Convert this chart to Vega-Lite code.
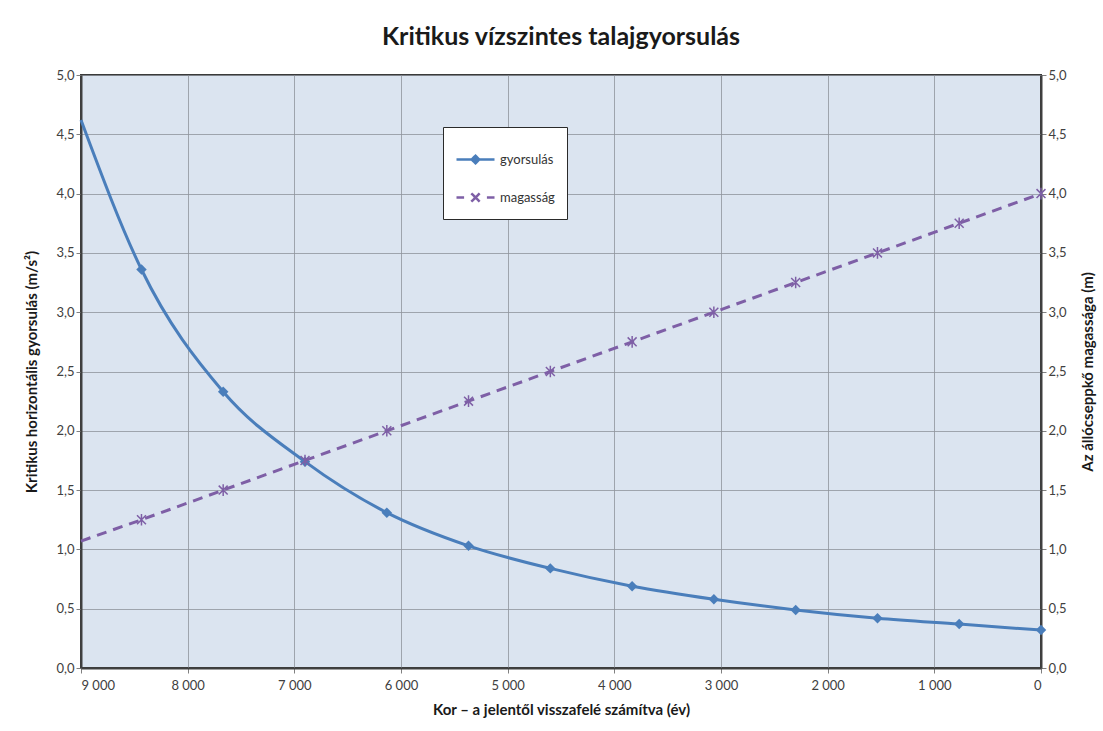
{
  "$schema": "https://vega.github.io/schema/vega-lite/v6.json",
  "width": 960,
  "height": 593,
  "autosize": {"type": "none"},
  "padding": {"left": 81, "top": 75, "right": 62, "bottom": 63},
  "background": "white",
  "title": {
    "text": "Kritikus vízszintes talajgyorsulás",
    "font": "Lato",
    "fontSize": 25,
    "fontWeight": "bold",
    "color": "#1a1a1a",
    "anchor": "middle",
    "offset": 19
  },
  "data": {
    "values": [
      {"age": 9000, "series": "gyorsulás", "value": 4.62},
      {"age": 8433, "series": "gyorsulás", "value": 3.36},
      {"age": 7667, "series": "gyorsulás", "value": 2.33},
      {"age": 6900, "series": "gyorsulás", "value": 1.74},
      {"age": 6133, "series": "gyorsulás", "value": 1.31},
      {"age": 5367, "series": "gyorsulás", "value": 1.03},
      {"age": 4600, "series": "gyorsulás", "value": 0.84},
      {"age": 3833, "series": "gyorsulás", "value": 0.69},
      {"age": 3067, "series": "gyorsulás", "value": 0.58},
      {"age": 2300, "series": "gyorsulás", "value": 0.49},
      {"age": 1533, "series": "gyorsulás", "value": 0.42},
      {"age": 767, "series": "gyorsulás", "value": 0.37},
      {"age": 0, "series": "gyorsulás", "value": 0.32},
      {"age": 9000, "series": "magasság", "value": 1.07},
      {"age": 8433, "series": "magasság", "value": 1.25},
      {"age": 7667, "series": "magasság", "value": 1.5},
      {"age": 6900, "series": "magasság", "value": 1.75},
      {"age": 6133, "series": "magasság", "value": 2.0},
      {"age": 5367, "series": "magasság", "value": 2.25},
      {"age": 4600, "series": "magasság", "value": 2.5},
      {"age": 3833, "series": "magasság", "value": 2.75},
      {"age": 3067, "series": "magasság", "value": 3.0},
      {"age": 2300, "series": "magasság", "value": 3.25},
      {"age": 1533, "series": "magasság", "value": 3.5},
      {"age": 767, "series": "magasság", "value": 3.75},
      {"age": 0, "series": "magasság", "value": 4.0}
    ]
  },
  "config": {
    "view": {"fill": "#dbe4f0", "stroke": "#3a3a3a", "strokeWidth": 2},
    "axis": {
      "labelFont": "Lato",
      "labelFontSize": 13,
      "labelColor": "#404040",
      "titleFont": "Lato",
      "titleFontSize": 15,
      "titleFontWeight": "bold",
      "titleColor": "#1a1a1a",
      "domainColor": "#404040",
      "domainWidth": 2,
      "tickColor": "#808080",
      "tickSize": 5,
      "gridColor": "#8e949c",
      "gridWidth": 1,
      "gridOpacity": 0.8
    }
  },
  "encoding": {
    "x": {
      "field": "age",
      "type": "quantitative",
      "scale": {"domain": [0, 9000], "reverse": true, "nice": false},
      "axis": {
        "values": [0, 1000, 2000, 3000, 4000, 5000, 6000, 7000, 8000, 9000],
        "labelExpr": "replace(format(datum.value, ','), ',', ' ')",
        "title": "Kor – a jelentől visszafelé számítva (év)",
        "labelPadding": 6,
        "titlePadding": 10,
        "grid": true
      }
    }
  },
  "layer": [
    {
      "transform": [{"filter": "datum.series === 'gyorsulás'"}],
      "encoding": {
        "y": {
          "field": "value",
          "type": "quantitative",
          "scale": {"domain": [0, 5], "nice": false},
          "axis": {
            "orient": "left",
            "values": [0, 0.5, 1, 1.5, 2, 2.5, 3, 3.5, 4, 4.5, 5],
            "labelExpr": "replace(format(datum.value, '.1f'), '.', ',')",
            "title": "Kritikus horizontális gyorsulás (m/s²)",
            "titlePadding": 16,
            "grid": true
          }
        }
      },
      "layer": [
        {
          "mark": {"type": "line", "interpolate": "monotone", "strokeWidth": 3},
          "encoding": {
            "color": {
              "field": "series",
              "type": "nominal",
              "scale": {"domain": ["gyorsulás", "magasság"], "range": ["#4a7ebb", "#7e5fa6"]},
              "legend": {
                "title": null,
                "orient": "none",
                "legendX": 362,
                "legendY": 52,
                "direction": "vertical",
                "fillColor": "white",
                "strokeColor": "#2a2a2a",
                "padding": 12,
                "rowPadding": 8,
                "symbolSize": 1444,
                "symbolStrokeWidth": 2.5,
                "labelFont": "Lato",
                "labelFontSize": 13,
                "labelColor": "#333333",
                "labelOffset": 4,
                "encode": {
                  "symbols": {
                    "update": {
                      "shape": {"signal": "datum.value === 'gyorsulás' ? 'M-1,0L1,0M0,-0.2L0.2,0L0,0.2L-0.2,0Z' : 'M-1,0L-0.6,0M0.6,0L1,0M-0.22,-0.22L0.22,0.22M-0.22,0.22L0.22,-0.22'"},
                      "fill": {"signal": "datum.value === 'gyorsulás' ? '#4a7ebb' : 'transparent'"},
                      "stroke": {"signal": "datum.value === 'gyorsulás' ? '#4a7ebb' : '#7e5fa6'"},
                      "strokeWidth": {"value": 2.5},
                      "strokeDash": {"value": [1, 0]}
                    }
                  }
                }
              }
            }
          }
        },
        {
          "transform": [{"filter": "datum.age < 9000"}],
          "mark": {"type": "point", "shape": "diamond", "filled": true, "size": 110, "color": "#4a7ebb", "opacity": 1}
        }
      ]
    },
    {
      "transform": [{"filter": "datum.series === 'magasság'"}],
      "encoding": {
        "y": {
          "field": "value",
          "type": "quantitative",
          "scale": {"domain": [0, 5], "nice": false},
          "axis": {
            "orient": "right",
            "values": [0, 0.5, 1, 1.5, 2, 2.5, 3, 3.5, 4, 4.5, 5],
            "labelExpr": "replace(format(datum.value, '.1f'), '.', ',')",
            "title": "Az állócseppkő magassága (m)",
            "titleAngle": 270,
            "titleBaseline": "top",
            "titlePadding": 14,
            "grid": false
          }
        }
      },
      "layer": [
        {
          "mark": {"type": "line", "strokeWidth": 3, "strokeDash": [10, 7]},
          "encoding": {
            "color": {"field": "series", "type": "nominal"}
          }
        },
        {
          "transform": [{"filter": "datum.age < 9000"}],
          "mark": {"type": "point", "shape": "M-1,-1L1,1M-1,1L1,-1M0,-1.3L0,1.3", "filled": false, "size": 80, "strokeWidth": 1.5, "color": "#7e5fa6", "opacity": 1}
        }
      ]
    }
  ],
  "resolve": {"scale": {"y": "independent"}}
}
